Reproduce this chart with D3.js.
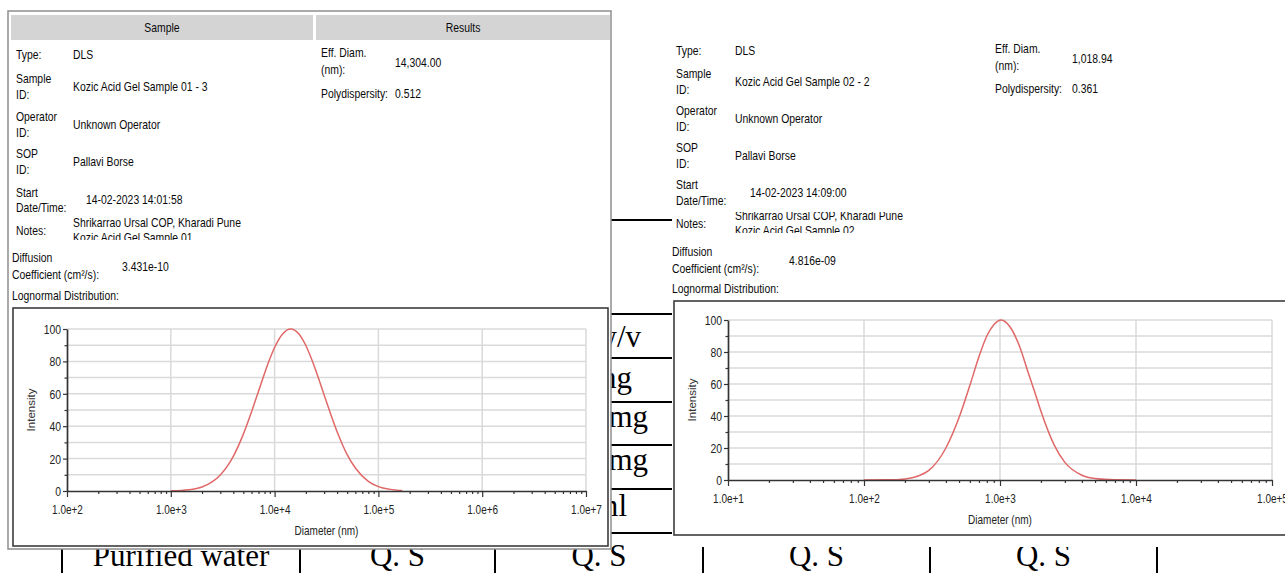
<!DOCTYPE html>
<html>
<head>
<meta charset="utf-8">
<script src="https://cdn.jsdelivr.net/npm/d3@7"></script>
<style>
body { margin: 0; background: #fff; }
svg { display: block; }
</style>
</head>
<body>
<svg width="1285" height="573"></svg>
<script>
var diam1 = [1000, 1500, 2000, 2500, 3000, 3600, 4000, 5000, 6000, 7000, 8000, 9000, 10000, 12000, 14304, 17000, 20000, 25000, 30000, 40000, 50000, 60000, 80000, 100000, 130000, 170000];
var int1  = [0.1, 0.8, 2.5, 5.6, 9.9, 16.4, 21.4, 35.1, 48.9, 61.6, 72.6, 81.6, 88.6, 97.1, 100, 97.2, 89.8, 74.3, 59.3, 36.6, 22.5, 14.2, 6.0, 2.7, 1.0, 0.3];
var diam2 = [100, 150, 200, 250, 300, 400, 500, 600, 700, 800, 900, 1019, 1200, 1400, 1600, 1800, 2000, 2500, 3000, 4000, 5000, 7000, 10000];
var int2  = [0, 0.1, 0.7, 2.5, 6, 20, 39, 59, 77, 90, 97, 100, 95, 83, 68, 55, 43, 22, 11, 3, 0.9, 0.1, 0];

var xLabels1 = ["1.0e+2", "1.0e+3", "1.0e+4", "1.0e+5", "1.0e+6", "1.0e+7"];
var xLabels2 = ["1.0e+1", "1.0e+2", "1.0e+3", "1.0e+4", "1.0e+5"];
var yTicks = [0, 20, 40, 60, 80, 100];

var fieldNames = [["Type:"], ["Sample", "ID:"], ["Operator", "ID:"], ["SOP", "ID:"], ["Start", "Date/Time:"], ["Notes:"]];
var sample1 = ["DLS", "Kozic Acid Gel Sample 01 - 3", "Unknown Operator", "Pallavi Borse", "14-02-2023 14:01:58"];
var sample2 = ["DLS", "Kozic Acid Gel Sample 02 - 2", "Unknown Operator", "Pallavi Borse", "14-02-2023 14:09:00"];
var notes1 = ["Shrikarrao Ursal COP, Kharadi Pune", "Kozic Acid Gel Sample 01"];
var notes2 = ["Shrikarrao Ursal COP, Kharadi Pune", "Kozic Acid Gel Sample 02"];
var results1 = ["14,304.00", "0.512"];
var results2 = ["1,018.94", "0.361"];
var diffusion1 = "3.431e-10";
var diffusion2 = "4.816e-09";

// table behind the screenshots
var tableUnits = ["1% w/v", "1 mg", "100 mg", "100 mg", "5 ml"];
var lastRow = ["Purified water", "Q. S", "Q. S", "Q. S", "Q. S"];

var svg = d3.select("svg");
var sans = '"Liberation Sans",Arial,sans-serif';
var serif = '"Liberation Serif","Times New Roman",serif';
var SQ = 0.8; // the screenshots are squeezed sideways

function txt(g, x, y, s, size, anchor, fam, sx) {
    return g.append("text")
        .attr("transform", "translate(" + x + "," + y + ") scale(" + (sx || SQ) + ",1)")
        .attr("font-family", fam || sans)
        .attr("font-size", size || 13)
        .attr("text-anchor", anchor || "start")
        .attr("fill", "#0a0a0a")
        .text(s);
}

// ---------- background table ----------
var bg = svg.append("g");
var rowLines = [220, 314, 358, 402, 445, 489, 533];
rowLines.forEach(function(yy) {
    bg.append("line").attr("x1", 480).attr("x2", 700).attr("y1", yy).attr("y2", yy)
        .attr("stroke", "#000").attr("stroke-width", 2.2);
});
var unitBase = [347, 388, 427, 470, 516];
var unitEnd = [641, 632, 648, 648, 627];
tableUnits.forEach(function(s, i) {
    txt(bg, unitEnd[i], unitBase[i], s, 31, "end", serif, 1).attr("fill", "#000");
});
var colEdges = [62, 300, 495, 703, 930, 1157];
colEdges.forEach(function(xx) {
    bg.append("line").attr("x1", xx).attr("x2", xx).attr("y1", 533).attr("y2", 573)
        .attr("stroke", "#000").attr("stroke-width", 2);
});
lastRow.forEach(function(s, i) {
    txt(bg, (colEdges[i] + colEdges[i + 1]) / 2, 566, s, 31, "middle", serif, 1).attr("fill", "#000");
});

// ---------- panels ----------
svg.append("rect").attr("x", 8).attr("y", 11).attr("width", 603).attr("height", 538)
    .attr("fill", "#fff").attr("stroke", "#8e8e8e").attr("stroke-width", 1.5);
svg.append("rect").attr("x", 672).attr("y", 0).attr("width", 620).attr("height", 547)
    .attr("fill", "#fff");

var head = svg.append("g");
head.append("rect").attr("x", 11).attr("y", 15).attr("width", 302).attr("height", 25).attr("fill", "#d4d4d4");
head.append("rect").attr("x", 316).attr("y", 15).attr("width", 294).attr("height", 25).attr("fill", "#d4d4d4");
txt(head, 162, 32, "Sample", 13, "middle");
txt(head, 463, 32, "Results", 13, "middle");

function drawInfo(L, values, notes, results, diff, clipId) {
    var g = svg.append("g");
    fieldNames.forEach(function(lines, i) {
        lines.forEach(function(s, j) {
            txt(g, L.labelX, L.rows[i][j], s);
        });
        if (i < values.length) {
            txt(g, i == 4 ? L.dateX : L.valueX, L.vals[i], values[i]);
        }
    });
    g.append("clipPath").attr("id", clipId).append("rect")
        .attr("x", L.valueX - 2).attr("y", L.noteClip[0]).attr("width", 300).attr("height", L.noteClip[1] - L.noteClip[0]);
    var ng = g.append("g").attr("clip-path", "url(#" + clipId + ")");
    notes.forEach(function(s, j) {
        txt(ng, L.valueX, L.notes[j], s);
    });
    txt(g, L.resX, L.eff[0], "Eff. Diam.");
    txt(g, L.resX, L.eff[1], "(nm):");
    txt(g, L.resValX, L.eff[2], results[0]);
    txt(g, L.resX, L.poly, "Polydispersity:");
    txt(g, L.resValX, L.poly, results[1]);
    txt(g, L.diffX, L.diff[0], "Diffusion");
    txt(g, L.diffX, L.diff[1], "Coefficient (cm\u00b2/s):");
    txt(g, L.diffValX, L.diff[2], diff);
    txt(g, L.diffX, L.logn, "Lognormal Distribution:");
}

drawInfo({
    labelX: 16, valueX: 73, dateX: 86,
    rows: [[59], [83, 99], [121, 137], [158, 174], [197, 212], [235]],
    vals: [59, 91, 129, 166, 204],
    notes: [227, 242], noteClip: [217, 240],
    resX: 321, resValX: 395, eff: [57, 74, 67], poly: 98,
    diffX: 12, diffValX: 122, diff: [262, 279, 271], logn: 300
}, sample1, notes1, results1, diffusion1, "clipN1");

drawInfo({
    labelX: 676, valueX: 735, dateX: 750,
    rows: [[55], [78, 94], [115, 131], [152, 168], [189, 205], [228]],
    vals: [55, 86, 123, 160, 197],
    notes: [220, 235], noteClip: [212, 233],
    resX: 995, resValX: 1072, eff: [53, 70, 63], poly: 93,
    diffX: 672, diffValX: 789, diff: [256, 273, 265], logn: 293
}, sample2, notes2, results2, diffusion2, "clipN2");

// ---------- charts ----------
function drawChart(box, plot, domain, labels, diam, inten, clipId) {
    var g = svg.append("g");
    g.append("rect").attr("x", box.x).attr("y", box.y).attr("width", box.w).attr("height", box.h)
        .attr("fill", "#fff").attr("stroke", "#3c3c3c").attr("stroke-width", 1.6);

    var x = d3.scaleLog().domain(domain).range([plot.l, plot.r]);
    var y = d3.scaleLinear().domain([0, 100]).range([plot.b, plot.t]);

    var e0 = Math.round(Math.log10(domain[0])), e1 = Math.round(Math.log10(domain[1]));
    var decades = d3.range(e0, e1 + 1).map(function(e) { return Math.pow(10, e); });
    var minor = [];
    decades.slice(0, -1).forEach(function(d) {
        for (var k = 2; k <= 9; k++) minor.push(k * d);
    });

    // grid
    d3.range(10, 101, 10).forEach(function(v) {
        g.append("line").attr("x1", plot.l).attr("x2", plot.r).attr("y1", y(v)).attr("y2", y(v))
            .attr("stroke", "#dadada").attr("stroke-width", 1.5);
    });
    decades.slice(1).forEach(function(d) {
        g.append("line").attr("x1", x(d)).attr("x2", x(d)).attr("y1", plot.t).attr("y2", plot.b)
            .attr("stroke", "#dadada").attr("stroke-width", 1.5);
    });

    // curve
    g.append("clipPath").attr("id", clipId).append("rect")
        .attr("x", plot.l).attr("y", plot.t - 3).attr("width", plot.r - plot.l).attr("height", plot.b - plot.t + 3);
    var pts = diam.map(function(d, i) { return [d, inten[i]]; });
    g.append("path").datum(pts)
        .attr("clip-path", "url(#" + clipId + ")")
        .attr("fill", "none").attr("stroke", "#e06868").attr("stroke-width", 1.5)
        .attr("d", d3.line()
            .x(function(d) { return x(d[0]); })
            .y(function(d) { return y(d[1]); })
            .curve(d3.curveMonotoneX));

    // axes
    g.append("g").attr("transform", "translate(0," + plot.b + ")")
        .call(d3.axisBottom(x).tickValues(minor).tickSize(3).tickFormat(""))
        .call(function(s) { s.select(".domain").remove(); });
    var xa = g.append("g").attr("transform", "translate(0," + plot.b + ")")
        .call(d3.axisBottom(x).tickValues(decades).tickSize(6).tickSizeOuter(0)
            .tickFormat(function(d, i) { return labels[i]; }));
    xa.selectAll("text").attr("x", null).attr("y", null).attr("dy", null)
        .attr("transform", "translate(0,23) scale(" + SQ + ",1)")
        .attr("font-family", sans).attr("font-size", 12.5).attr("fill", "#222");

    g.append("g").attr("transform", "translate(" + plot.l + ",0)")
        .call(d3.axisLeft(y).tickValues([10, 30, 50, 70, 90]).tickSize(2.5).tickFormat(""))
        .call(function(s) { s.select(".domain").remove(); });
    var ya = g.append("g").attr("transform", "translate(" + plot.l + ",0)")
        .call(d3.axisLeft(y).tickValues(yTicks).tickSize(4).tickSizeOuter(0));
    ya.selectAll("text").attr("x", null).attr("dy", null)
        .attr("transform", "translate(-6,4.5) scale(" + SQ + ",1)")
        .attr("font-family", sans).attr("font-size", 13).attr("fill", "#222");

    g.selectAll(".domain").attr("stroke", "#333").attr("stroke-width", 1.7);
    g.selectAll(".tick line").attr("stroke", "#333").attr("stroke-width", 1.2);

    txt(g, (plot.l + plot.r) / 2, plot.b + 44, "Diameter (nm)", 12.5, "middle").attr("fill", "#222");
    g.append("text")
        .attr("transform", "translate(" + (box.x + 22) + "," + ((plot.t + plot.b) / 2) + ") rotate(-90)")
        .attr("text-anchor", "middle")
        .attr("font-family", sans)
        .attr("font-size", 11.5)
        .attr("fill", "#333")
        .text("Intensity");
}

drawChart({x: 13, y: 308, w: 595, h: 238}, {l: 67, r: 586, t: 329, b: 491},
    [1e2, 1e7], xLabels1, diam1, int1, "clipC1");
drawChart({x: 674, y: 301, w: 630, h: 234}, {l: 728, r: 1272, t: 320, b: 480},
    [1e1, 1e5], xLabels2, diam2, int2, "clipC2");
</script>
</body>
</html>
